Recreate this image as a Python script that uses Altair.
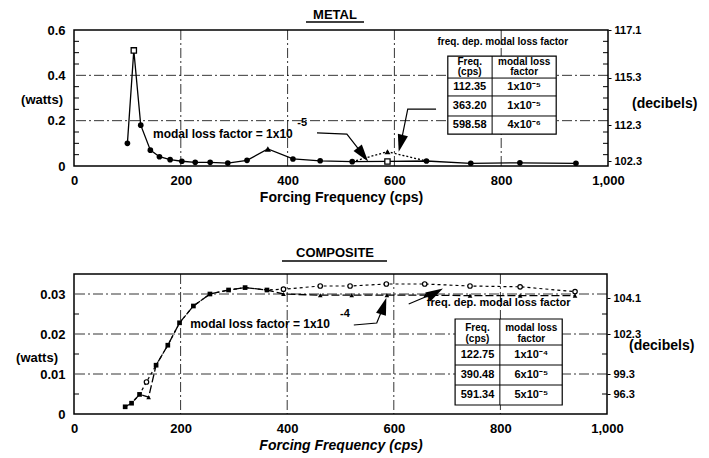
import altair as alt
import pandas as pd

FONT = "Liberation Sans"

# ---------------- data: METAL ----------------
metal_freq = [100, 112, 125, 143, 160, 180, 202, 227, 255, 288, 324, 363, 410, 461, 521, 587, 660, 743, 835, 940]
metal_watts = [0.10, 0.51, 0.18, 0.07, 0.041, 0.028, 0.021, 0.016, 0.016, 0.013, 0.025, 0.075,
               0.031, 0.023, 0.019, 0.020, 0.022, 0.012, 0.014, 0.012]
metal_fd_freq = [521, 587, 660]
metal_fd_watts = [0.019, 0.063, 0.022]
metal_open_sq = [112, 587]
metal_tri = [363]
metal_db_pos = [0.6, 0.39, 0.18, 0.02]
metal_db_lab = ["117.1", "115.3", "112.3", "102.3"]
metal_table = [["112.35", "1x10\u207b\u2075"], ["363.20", "1x10\u207b\u2075"], ["598.58", "4x10\u207b\u2076"]]

# ---------------- data: COMPOSITE ----------------
comp_const_freq = [96, 108, 123, 140, 154, 176, 198, 224, 255, 290, 321, 362, 393, 462, 521, 587, 660, 743, 837, 940]
comp_const_watts = [0.0018, 0.0027, 0.0049, 0.0042, 0.0122, 0.0172, 0.0228, 0.027, 0.030, 0.031, 0.0316, 0.031,
                    0.0300, 0.0297, 0.0297, 0.0297, 0.0297, 0.0296, 0.0296, 0.0296]
comp_fd_freq = [96, 108, 123, 136, 154, 176, 198, 224, 255, 290, 321, 362, 393, 462, 518, 586, 658, 743, 837, 940]
comp_fd_watts = [0.0018, 0.0027, 0.0049, 0.008, 0.0122, 0.0172, 0.0228, 0.027, 0.030, 0.031, 0.0316, 0.031,
                 0.0312, 0.032, 0.032, 0.0325, 0.0325, 0.032, 0.0318, 0.0306]
comp_db_pos = [0.029, 0.02, 0.01, 0.005]
comp_db_lab = ["104.1", "102.3", "99.3", "96.3"]
comp_table = [["122.75", "1x10\u207b\u2074"], ["390.48", "6x10\u207b\u2075"], ["591.34", "5x10\u207b\u2075"]]

x_ticks = [0, 200, 400, 600, 800, 1000]
grid_x = [200, 400, 600, 800]

ARROW = "M0,-1L0.6,1L-0.6,1Z"


def label_expr(pos, lab):
    e = "''"
    for p, l in zip(pos, lab):
        e = f"datum.value == {p} ? '{l}' : ({e})"
    return e


def panel(W, H, ydom, yticks, yfmt, grid_y, minor_y, db_pos, db_lab, title, title_x, ul, ttl_y,
          watts_xy, db_xy, italic, series, extras):
    xs = alt.Scale(domain=[0, 1000], nice=False, zero=False)
    ys = alt.Scale(domain=ydom, nice=False, zero=False)
    xaxis = alt.Axis(
        values=x_ticks, format=",d", title="Forcing Frequency (cps)", titleFont=FONT,
        titleFontSize=14, titleFontWeight="bold", titleFontStyle="italic" if italic else "normal",
        titleColor="black", labelFont=FONT, labelFontSize=13, labelFontWeight="bold",
        labelColor="black", labelFlush=False, ticks=False, domain=False, grid=False,
        labelPadding=8, titlePadding=3)
    yaxis = alt.Axis(
        values=yticks, labelExpr=f"datum.value == 0 ? '0' : format(datum.value, '{yfmt}')",
        title=None, labelFont=FONT, labelFontSize=13, labelFontWeight="bold", labelColor="black",
        ticks=False, domain=False, grid=False, labelPadding=9)
    X = lambda: alt.X("f:Q", scale=xs, axis=xaxis)
    Y = lambda: alt.Y("w:Q", scale=ys, axis=yaxis)

    layers = []
    dash = [10, 3, 2, 3]
    layers.append(alt.Chart(pd.DataFrame({"f": grid_x})).mark_rule(color="black", strokeWidth=0.8, strokeDash=dash).encode(x=X()))
    layers.append(alt.Chart(pd.DataFrame({"w": grid_y})).mark_rule(color="black", strokeWidth=0.8, strokeDash=dash).encode(y=Y()))
    mt = pd.DataFrame({"w": minor_y})
    layers.append(alt.Chart(mt).mark_rule(color="black", strokeWidth=1).encode(y=Y(), x=alt.value(0), x2=alt.value(5)))
    layers.append(alt.Chart(mt).mark_rule(color="black", strokeWidth=1).encode(y=Y(), x=alt.value(W - 5), x2=alt.value(W)))

    layers += series(X, Y)
    layers += extras(X, Y)

    layers.append(alt.Chart(pd.DataFrame({"t": [title]})).mark_text(
        font=FONT, fontSize=13, fontWeight="bold", color="black", baseline="middle").encode(
        text="t:N", x=alt.value(title_x), y=alt.value(ttl_y)))
    layers.append(alt.Chart(pd.DataFrame({"a": [0]})).mark_rule(color="black", strokeWidth=1.3).encode(
        x=alt.value(ul[0]), x2=alt.value(ul[1]), y=alt.value(ul[2])))
    layers.append(alt.Chart(pd.DataFrame({"t": ["(watts)"]})).mark_text(
        font=FONT, fontSize=13, fontWeight="bold", color="black", align="right", baseline="middle").encode(
        text="t:N", x=alt.value(watts_xy[0]), y=alt.value(watts_xy[1])))
    layers.append(alt.Chart(pd.DataFrame({"t": ["(decibels)"]})).mark_text(
        font=FONT, fontSize=14, fontWeight="bold", color="black", align="left", baseline="middle").encode(
        text="t:N", x=alt.value(db_xy[0]), y=alt.value(db_xy[1])))

    main = alt.layer(*layers)
    right = alt.Chart(pd.DataFrame({"w": db_pos})).mark_point(opacity=0).encode(
        y=alt.Y("w:Q", scale=alt.Scale(domain=ydom, nice=False, zero=False), axis=alt.Axis(
            orient="right", values=db_pos, labelExpr=label_expr(db_pos, db_lab), title=None,
            labelFont=FONT, labelFontSize=11, labelFontWeight="bold", labelColor="black",
            tickSize=3, tickColor="black", domain=False, grid=False, labelPadding=3)))
    return alt.layer(main, right).resolve_scale(y="independent").properties(width=W, height=H)


def txt(X, Y, f, w, t, size=10, align="left", dx=0):
    return alt.Chart(pd.DataFrame({"f": [f], "w": [w], "t": [t]})).mark_text(
        font=FONT, fontSize=size, fontWeight="bold", color="black", align=align, baseline="middle", dx=dx).encode(
        x=X(), y=Y(), text="t:N")


def arrow(X, Y, fs, ws, ang, size=300):
    d = pd.DataFrame({"f": fs, "w": ws, "o": list(range(len(fs)))})
    line = alt.Chart(d).mark_line(color="black", strokeWidth=1.2).encode(x=X(), y=Y(), order="o:Q")
    head = alt.Chart(d.iloc[[-1]]).mark_point(shape=ARROW, angle=ang, filled=True, color="black",
                                               opacity=1, size=size).encode(x=X(), y=Y())
    return [line, head]


def table(X, Y, fx, wy, hdr_w, row_w, colx, rows, size):
    out = []
    box = pd.DataFrame({"f": [fx[0]], "f2": [fx[2]], "w": [wy[0]], "w2": [wy[-1]]})
    out.append(alt.Chart(box).mark_rect(fill="white", stroke="black", strokeWidth=1.2).encode(
        x=X(), x2="f2:Q", y=Y(), y2="w2:Q"))
    out.append(alt.Chart(pd.DataFrame({"f": [fx[1]], "w": [wy[0]], "w2": [wy[-1]]})).mark_rule(
        color="black", strokeWidth=1).encode(x=X(), y=Y(), y2="w2:Q"))
    out.append(alt.Chart(pd.DataFrame({"w": wy[1:-1], "f": [fx[0]] * (len(wy) - 2), "f2": [fx[2]] * (len(wy) - 2)})).mark_rule(
        color="black", strokeWidth=1).encode(y=Y(), x=X(), x2="f2:Q"))
    out.append(txt(X, Y, colx[0], hdr_w[0], "Freq.", size, "center"))
    out.append(txt(X, Y, colx[0], hdr_w[1], "(cps)", size, "center"))
    out.append(txt(X, Y, colx[1], hdr_w[0], "modal loss", size, "center"))
    out.append(txt(X, Y, colx[1], hdr_w[1], "factor", size, "center"))
    for (a, b), w in zip(rows, row_w):
        out.append(txt(X, Y, colx[0], w, a, size + 1, "center"))
        out.append(txt(X, Y, colx[1], w, b, size + 1, "center"))
    return out


# ---------- METAL ----------
def metal_series(X, Y):
    d = pd.DataFrame({"f": metal_freq, "w": metal_watts})
    fd = pd.DataFrame({"f": metal_fd_freq, "w": metal_fd_watts})
    return [
        alt.Chart(fd).mark_line(color="black", strokeWidth=1.3, strokeDash=[2, 2]).encode(x=X(), y=Y()),
        alt.Chart(fd).transform_filter("datum.f == 587").mark_point(shape="triangle-up", filled=True, color="black", size=35, opacity=1).encode(x=X(), y=Y()),
        alt.Chart(d).mark_line(color="black", strokeWidth=1.3).encode(x=X(), y=Y()),
        alt.Chart(d).transform_filter("datum.f != 112 && datum.f != 587 && datum.f != 363").mark_circle(color="black", size=32, opacity=1).encode(x=X(), y=Y()),
        alt.Chart(d).transform_filter(alt.FieldOneOfPredicate(field="f", oneOf=metal_open_sq)).mark_point(shape="square", filled=True, fill="white", stroke="black", strokeWidth=1.3, size=28, opacity=1).encode(x=X(), y=Y()),
        alt.Chart(d).transform_filter(alt.FieldOneOfPredicate(field="f", oneOf=metal_tri)).mark_point(shape="triangle-up", filled=True, color="black", size=40, opacity=1).encode(x=X(), y=Y()),
    ]


def metal_extras(X, Y):
    out = []
    out.append(txt(X, Y, 148, 0.141, "modal loss factor = 1x10", 12))
    out.append(txt(X, Y, 418, 0.188, "-5", 11))
    out += arrow(X, Y, [455, 511, 541], [0.146, 0.141, 0.05], 143)
    out += arrow(X, Y, [678, 625, 612], [0.251, 0.251, 0.10], 194)
    out.append(txt(X, Y, 803, 0.547, "freq. dep. modal loss factor", 10, "center"))
    out += table(X, Y, [700, 783, 903], [0.485, 0.388, 0.309, 0.2206, 0.141], [0.459, 0.415],
                 [0.348, 0.265, 0.181], [741, 843], metal_table, 10)
    return out


top = panel(534, 136, [0, 0.6], [0, 0.2, 0.4, 0.6], ".1f", [0.2, 0.4],
            [0.05, 0.1, 0.15, 0.25, 0.3, 0.35, 0.45, 0.5, 0.55], metal_db_pos, metal_db_lab,
            "METAL", 261, (232, 290, -8), -15, (-11, 70), (558, 74), False, metal_series, metal_extras)


# ---------- COMPOSITE ----------
def comp_series(X, Y):
    c = pd.DataFrame({"f": comp_const_freq, "w": comp_const_watts})
    fd = pd.DataFrame({"f": comp_fd_freq, "w": comp_fd_watts})
    return [
        alt.Chart(fd).mark_line(color="black", strokeWidth=1.2, strokeDash=[3, 3]).encode(x=X(), y=Y()),
        alt.Chart(c).mark_line(color="black", strokeWidth=1.3, strokeDash=[8, 3]).encode(x=X(), y=Y()),
        alt.Chart(c).transform_filter("datum.f <= 362 && datum.f != 140").mark_point(shape="square", filled=True, color="black", size=22, opacity=1).encode(x=X(), y=Y()),
        alt.Chart(c).transform_filter("datum.f > 362 || datum.f == 140").mark_point(shape="triangle-up", filled=True, color="black", size=22, opacity=1).encode(x=X(), y=Y()),
        alt.Chart(fd).transform_filter("datum.f > 362 || datum.f == 136").mark_point(shape="circle", filled=True, fill="white", stroke="black", strokeWidth=1.2, size=20, opacity=1).encode(x=X(), y=Y()),
    ]


def comp_extras(X, Y):
    out = []
    out.append(txt(X, Y, 218, 0.0225, "modal loss factor = 1x10", 12))
    out.append(txt(X, Y, 499, 0.025, "-4", 11))
    out += arrow(X, Y, [525, 568, 581], [0.02225, 0.02275, 0.027], 18)
    out += arrow(X, Y, [628, 678], [0.0275, 0.0303], 61)
    out.append(txt(X, Y, 662, 0.02775, "freq. dep. modal loss factor", 11))
    out += table(X, Y, [715, 799, 916], [0.02375, 0.01725, 0.01225, 0.00725, 0.00225], [0.0215, 0.01875],
                 [0.01475, 0.00975, 0.00475], [757, 858], comp_table, 10)
    return out


bottom = panel(533, 140, [0, 0.035], [0, 0.01, 0.02, 0.03], ".2f", [0.01, 0.02, 0.03],
               [0.005, 0.015, 0.025], comp_db_pos, comp_db_lab,
               "COMPOSITE", 261, (208, 313, -13), -21, (-16, 84), (555, 72), True, comp_series, comp_extras)

chart = alt.vconcat(top, bottom, spacing=41).properties(
    padding={"left": 7, "top": 0, "right": 0, "bottom": 0}, background="white"
).configure_view(stroke="black", strokeWidth=1.5)

chart.save("out.html", embed_options={"renderer": "svg", "actions": False})
